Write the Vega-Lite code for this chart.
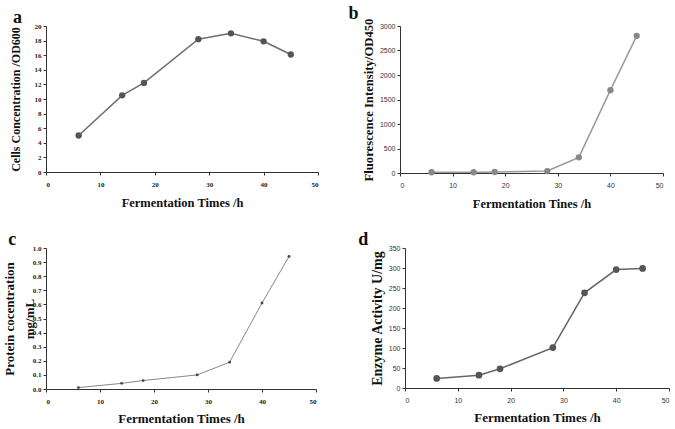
{
  "$schema": "https://vega.github.io/schema/vega-lite/v6.json",
  "padding": {"left": 3, "top": 5, "right": 2, "bottom": 2},
  "background": "white",
  "config": {
    "view": {"stroke": null},
    "axis": {
      "grid": false,
      "domainColor": "#333",
      "tickColor": "#333",
      "tickSize": 3,
      "labelPadding": 2,
      "labelFontSize": 7,
      "labelColor": "#333",
      "titleFont": "Liberation Serif",
      "titleFontWeight": "bold",
      "titleFontSize": 13,
      "titleColor": "#111"
    },
    "axisX": {"labelPadding": 5},
    "title": {"font": "Liberation Serif", "fontWeight": "bold", "fontSize": 18, "anchor": "start", "frame": "bounds", "color": "#111", "offset": -5}
  },
  "data": {"values": [
    {"panel": "a", "t": 6, "v": 5.0},
    {"panel": "a", "t": 14, "v": 10.5},
    {"panel": "a", "t": 18, "v": 12.2},
    {"panel": "a", "t": 28, "v": 18.2},
    {"panel": "a", "t": 34, "v": 19.0},
    {"panel": "a", "t": 40, "v": 17.9},
    {"panel": "a", "t": 45, "v": 16.1},
    {"panel": "b", "t": 6, "v": 15},
    {"panel": "b", "t": 14, "v": 15},
    {"panel": "b", "t": 18, "v": 20},
    {"panel": "b", "t": 28, "v": 40},
    {"panel": "b", "t": 34, "v": 320},
    {"panel": "b", "t": 40, "v": 1690},
    {"panel": "b", "t": 45, "v": 2800},
    {"panel": "c", "t": 6, "v": 0.01},
    {"panel": "c", "t": 14, "v": 0.04},
    {"panel": "c", "t": 18, "v": 0.06},
    {"panel": "c", "t": 28, "v": 0.1},
    {"panel": "c", "t": 34, "v": 0.19},
    {"panel": "c", "t": 40, "v": 0.61},
    {"panel": "c", "t": 45, "v": 0.94},
    {"panel": "d", "t": 6, "v": 24},
    {"panel": "d", "t": 14, "v": 32},
    {"panel": "d", "t": 18, "v": 48},
    {"panel": "d", "t": 28, "v": 101},
    {"panel": "d", "t": 34, "v": 238},
    {"panel": "d", "t": 40, "v": 296},
    {"panel": "d", "t": 45, "v": 299}
  ]},
  "vconcat": [
    {
      "hconcat": [
        {
          "width": 272, "height": 146,
          "title": {"text": "a", "dx": 4},
          "transform": [{"filter": "datum.panel === 'a'"}],
          "encoding": {
            "x": {"field": "t", "type": "quantitative", "scale": {"domain": [0, 50]}, "axis": {"values": [0, 10, 20, 30, 40, 50], "title": "Fermentation Times /h", "titleFontSize": 12.5, "titlePadding": 9, "labelFont": "Liberation Serif", "labelFontWeight": "bold", "labelColor": "#222"}},
            "y": {"field": "v", "type": "quantitative", "scale": {"domain": [0, 20]}, "axis": {"values": [0, 2, 4, 6, 8, 10, 12, 14, 16, 18, 20], "title": "Cells Concentration /OD600", "titleFontSize": 12, "titlePadding": 12, "labelFont": "Liberation Serif", "labelFontWeight": "bold", "labelColor": "#222"}}
          },
          "layer": [
            {"mark": {"type": "line", "color": "#6e6e6e", "strokeWidth": 1.5}},
            {"mark": {"type": "point", "filled": true, "color": "#555", "size": 40, "opacity": 1}}
          ]
        },
        {
          "width": 263, "height": 147,
          "title": {"text": "b", "dx": -14},
          "transform": [{"filter": "datum.panel === 'b'"}],
          "encoding": {
            "x": {"field": "t", "type": "quantitative", "scale": {"domain": [0, 50]}, "axis": {"values": [0, 10, 20, 30, 40, 50], "title": "Fermentation Tines /h", "titleFontSize": 12.5, "titlePadding": 9}},
            "y": {"field": "v", "type": "quantitative", "scale": {"domain": [0, 3000]}, "axis": {"values": [0, 500, 1000, 1500, 2000, 2500, 3000], "format": "d", "title": "Fluorescence Intensity/OD450", "titleFontSize": 12.7, "titlePadding": 4}}
          },
          "layer": [
            {"mark": {"type": "line", "color": "#999", "strokeWidth": 1.5}},
            {"mark": {"type": "point", "filled": true, "color": "#888", "size": 40, "opacity": 1}}
          ]
        }
      ],
      "spacing": 29
    },
    {
      "hconcat": [
        {
          "width": 270, "height": 141,
          "title": {"text": "c", "dx": 5},
          "transform": [{"filter": "datum.panel === 'c'"}],
          "encoding": {
            "x": {"field": "t", "type": "quantitative", "scale": {"domain": [0, 50]}, "axis": {"values": [0, 10, 20, 30, 40, 50], "title": "Fermentation Times /h", "titlePadding": 8, "labelFont": "Liberation Serif", "labelFontWeight": "bold", "labelColor": "#222"}},
            "y": {"field": "v", "type": "quantitative", "scale": {"domain": [0, 1]}, "axis": {"values": [0, 0.1, 0.2, 0.3, 0.4, 0.5, 0.6, 0.7, 0.8, 0.9, 1], "title": ["Protein cocentration", "mg/mL"], "titleLineHeight": 20, "titlePadding": -4, "labelFont": "Liberation Serif", "labelFontWeight": "bold", "labelColor": "#222"}}
          },
          "layer": [
            {"mark": {"type": "line", "color": "#888", "strokeWidth": 1}},
            {"mark": {"type": "point", "filled": true, "color": "#444", "size": 8, "opacity": 1}}
          ]
        },
        {
          "width": 264, "height": 140,
          "title": {"text": "d", "dx": -12},
          "transform": [{"filter": "datum.panel === 'd'"}],
          "encoding": {
            "x": {"field": "t", "type": "quantitative", "scale": {"domain": [0, 50]}, "axis": {"values": [0, 10, 20, 30, 40, 50], "title": "Fermentation Times /h", "titlePadding": 8}},
            "y": {"field": "v", "type": "quantitative", "scale": {"domain": [0, 350]}, "axis": {"values": [0, 50, 100, 150, 200, 250, 300, 350], "title": "Enzyme Activity  U/mg", "titleFontSize": 14, "titlePadding": 4}}
          },
          "layer": [
            {"mark": {"type": "line", "color": "#666", "strokeWidth": 1.5}},
            {"mark": {"type": "point", "filled": true, "color": "#555", "size": 45, "opacity": 1}}
          ]
        }
      ],
      "spacing": 41
    }
  ],
  "spacing": 21
}
